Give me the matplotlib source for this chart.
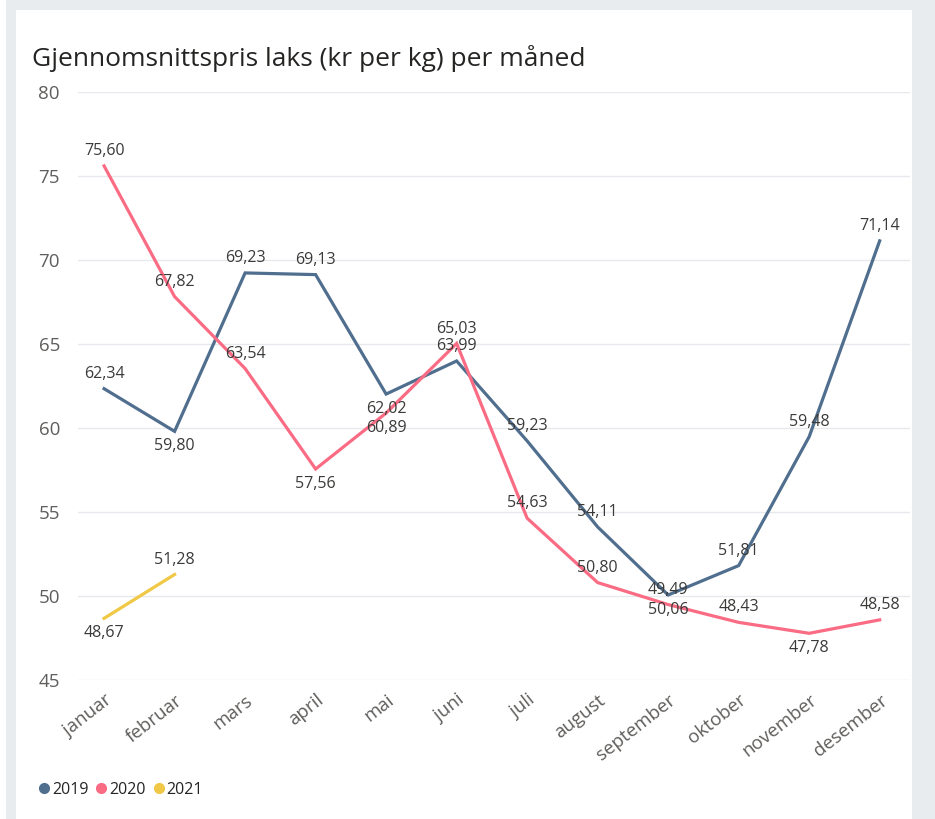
'''plot.py

   Gjennomsnittspris laks per maaned, 2019-2021
'''

import matplotlib
matplotlib.use('Agg')
import matplotlib.pyplot as plt
from matplotlib.patches import Rectangle
from matplotlib.lines import Line2D


#
#  Data
#
months = ['januar', 'februar', 'mars', 'april', 'mai', 'juni', 'juli',
          'august', 'september', 'oktober', 'november', 'desember']

p2019 = [62.34, 59.80, 69.23, 69.13, 62.02, 63.99, 59.23, 54.11, 50.06, 51.81, 59.48, 71.14]
p2020 = [75.60, 67.82, 63.54, 57.56, 60.89, 65.03, 54.63, 50.80, 49.49, 48.43, 47.78, 48.58]
p2021 = [48.67, 51.28]

# label placement: 1 = above the point, -1 = below
pos2019 = [1, -1, 1, 1, -1, 1, 1, 1, -1, 1, 1, 1]
pos2020 = [1, 1, 1, -1, -1, 1, 1, 1, 1, 1, -1, 1]
pos2021 = [-1, 1]

c2019 = '#506e8e'
c2020 = '#fa6b84'
c2021 = '#f0c845'
grey_txt = '#605e5c'
lbl_txt = '#3b3a39'

plt.rcParams['font.family'] = ['Open Sans', 'DejaVu Sans']


#
#  Figure and background card
#
fig = plt.figure(figsize=(9.35, 8.19), dpi=100)
fig.patch.set_facecolor('#e9ecef')
W, H = 935.0, 819.0
fig.add_artist(Rectangle((0, 0), 6 / W, 1, transform=fig.transFigure,
                         facecolor='white', edgecolor='none', zorder=0))
fig.add_artist(Rectangle((16 / W, 0), (912 - 16) / W, (819 - 10) / H,
                         transform=fig.transFigure, facecolor='white',
                         edgecolor='none', zorder=0))

ax = fig.add_axes([78 / W, 1 - 680 / H, (910 - 78) / W, (680 - 92) / H])
ax.set_facecolor('none')

x = list(range(len(months)))

ax.plot(x, p2019, color=c2019, lw=2.3, solid_joinstyle='miter', zorder=3)
ax.plot(x, p2020, color=c2020, lw=2.3, solid_joinstyle='miter', zorder=3)
ax.plot(x[:len(p2021)], p2021, color=c2021, lw=2.3, zorder=3)

# Data labels
def put_labels(vals, where):
    for i, (v, w) in enumerate(zip(vals, where)):
        txt = f'{v:.2f}'.replace('.', ',')
        ax.annotate(txt, (i, v), xytext=(0, 5 * w), textcoords='offset points',
                    ha='center', va='bottom' if w > 0 else 'top',
                    fontsize=11.5, color=lbl_txt, zorder=4)

put_labels(p2019, pos2019)
put_labels(p2020, pos2020)
put_labels(p2021, pos2021)


#
#  Axes styling
#
ax.set_xlim(-0.37, 11.43)
ax.set_ylim(45, 80)
ax.set_yticks(range(45, 81, 5))
ax.set_xticks(x)
ax.set_xticklabels(months, rotation=38, ha='right', rotation_mode='anchor')
ax.tick_params(axis='both', length=0, colors=grey_txt, labelsize=13.5)
ax.tick_params(axis='y', pad=13)
ax.tick_params(axis='x', pad=8)
ax.grid(axis='y', color='#e6eaee', lw=1)
ax.set_axisbelow(True)
for s in ax.spines.values():
    s.set_visible(False)

fig.text(32 / W, 1 - 66 / H, 'Gjennomsnittspris laks (kr per kg) per måned',
         fontsize=19, color='#252423', ha='left', va='baseline')

handles = [Line2D([], [], marker='o', ls='none', color=c, markersize=7)
           for c in (c2019, c2020, c2021)]
fig.legend(handles, ['2019', '2020', '2021'], loc='center left',
           bbox_to_anchor=(28 / W, 1 - 790 / H), ncol=3, frameon=False,
           fontsize=11.5, handletextpad=0.0, columnspacing=0.3,
           handlelength=1.0, borderpad=0, labelcolor='#252423')

fig.savefig('out.png', dpi=100, facecolor=fig.get_facecolor())
